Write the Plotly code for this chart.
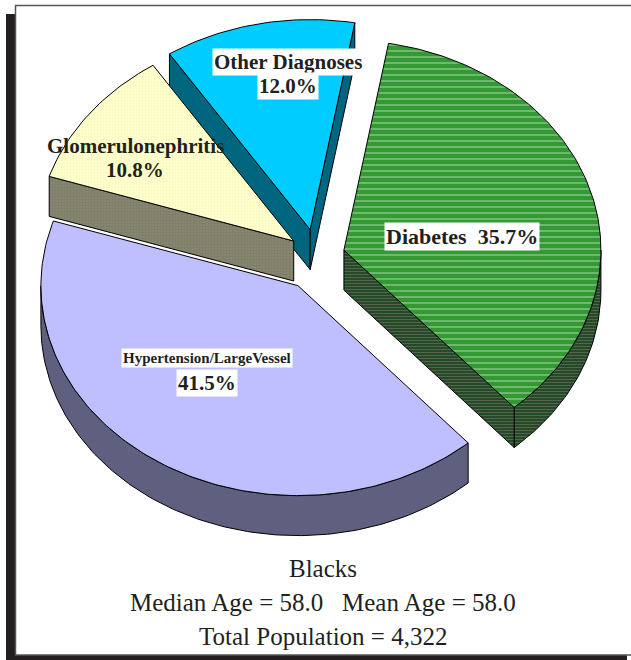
import math
import plotly.graph_objects as go

# ---------------- data ----------------
categories = ["Diabetes", "Hypertension/LargeVessel", "Glomerulonephritis", "Other Diagnoses"]
shares = [35.7, 41.5, 10.8, 12.0]
group_name = "Blacks"
median_age = 58.0
mean_age = 58.0
total_population = 4322

# ---------------- style / layout ----------------
W, H = 631, 660
CX, CY = 316, 258          # pie centre (pixels)
A, B = 257, 210            # ellipse radii
DEPTH = 40                 # pie thickness
START = 10                 # first slice starts 10 deg clockwise from 12 o'clock
explode = [29, 33, 28, 29]
top_colors = ["#339933", "#BFBFFF", "#FFFFCC", "#00CCFF"]
side_colors = ["#254a25", "#5f5f80", "#808068", "#006680"]
top_patterns = [
    dict(shape="-", fgcolor="#ffffff", bgcolor="#339933", size=6, solidity=0.2),
    None,
    dict(shape="+", fgcolor="#ecebb8", bgcolor="#FFFFCC", size=3, solidity=0.25),
    None,
]
side_patterns = [
    dict(shape="-", fgcolor="#808080", bgcolor="#254a25", size=3, solidity=0.35),
    None,
    dict(shape="+", fgcolor="#6c6c58", bgcolor="#858570", size=3, solidity=0.25),
    None,
]
label_r = [0.464, 0.534, 0.733, 0.748]
label_phi = [81.7, 221.5, 302.6, 353.4]
label_bg = [True, True, False, True]
FONT = "Liberation Serif"

draw_order = [3, 2, 0, 1]  # back to front


def pt(cx, cy, phi_deg, dy=0.0):
    p = math.radians(phi_deg)
    return cx + A * math.sin(p), cy - B * math.cos(p) + dy


def arc(cx, cy, p0, p1, dy=0.0):
    n = max(2, int(abs(p1 - p0) / 1.0) + 1)
    xs, ys = [], []
    for i in range(n + 1):
        ph = p0 + (p1 - p0) * i / n
        x, y = pt(cx, cy, ph, dy)
        xs.append(x)
        ys.append(y)
    return xs, ys


total = sum(shares)
slices = []
acc = START
for i, v in enumerate(shares):
    span = 360.0 * v / total
    ps, pe = acc, acc + span
    mid = (ps + pe) / 2
    m = math.radians(mid)
    cx = CX + explode[i] * math.sin(m)
    cy = CY - explode[i] * math.cos(m)
    slices.append(dict(ps=ps, pe=pe, mid=mid, cx=cx, cy=cy))
    acc = pe

fig = go.Figure()


def poly(xs, ys, color, pattern):
    kw = dict(
        x=xs + [xs[0]], y=ys + [ys[0]], mode="lines", fill="toself",
        line=dict(color="#000000", width=1), fillcolor=color,
        hoverinfo="skip", showlegend=False,
    )
    if pattern is not None:
        kw["fillpattern"] = pattern
    fig.add_trace(go.Scatter(**kw))


for i in draw_order:
    s = slices[i]
    cx, cy, ps, pe = s["cx"], s["cy"], s["ps"], s["pe"]
    # outer wall on the front (lower) half
    for lo, hi in ((90, 270), (450, 630)):
        a0, a1 = max(ps, lo), min(pe, hi)
        if a1 > a0:
            tx, ty = arc(cx, cy, a0, a1)
            bx, by = arc(cx, cy, a0, a1, DEPTH)
            poly(tx + bx[::-1], ty + by[::-1], side_colors[i], side_patterns[i])
    # radial faces
    for ph, vis in ((ps, math.sin(math.radians(ps)) < 0), (pe, math.sin(math.radians(pe)) > 0)):
        if vis:
            qx, qy = pt(cx, cy, ph)
            poly([cx, qx, qx, cx], [cy, qy, qy + DEPTH, cy + DEPTH], side_colors[i], side_patterns[i])
    # top face
    ax, ay = arc(cx, cy, ps, pe)
    poly([cx] + ax, [cy] + ay, top_colors[i], top_patterns[i])

# ---------------- labels ----------------
annotations = []
for i, s in enumerate(slices):
    lp = math.radians(label_phi[i])
    lx = s["cx"] + A * label_r[i] * math.sin(lp)
    ly = s["cy"] - B * label_r[i] * math.cos(lp)
    pct = f"{shares[i]:.1f}%"
    bg = "#ffffff" if label_bg[i] else "rgba(0,0,0,0)"
    if i == 0:
        lines = [(f"{categories[i]}&nbsp;&nbsp;{pct}", 22, 0)]
    elif i == 1:
        lines = [(categories[i], 15, -12), (pct, 21, 13)]
    else:
        lines = [(categories[i], 21, -12), (pct, 21, 12)]
    for txt, size, off in lines:
        annotations.append(dict(
            x=lx, y=ly + off, xref="x", yref="y", text=f"<b>{txt}</b>", showarrow=False,
            font=dict(family=FONT, size=size, color="#231f20"),
            bgcolor=bg, borderpad=1, xanchor="center", yanchor="middle",
        ))

footer = [
    group_name,
    f"Median Age = {median_age:.1f}&nbsp;&nbsp;&nbsp;Mean Age = {mean_age:.1f}",
    f"Total Population = {total_population:,}",
]
for k, txt in enumerate(footer):
    annotations.append(dict(
        x=323, y=568 + 34 * k, xref="x", yref="y", text=txt, showarrow=False,
        font=dict(family=FONT, size=25, color="#231f20"),
        xanchor="center", yanchor="middle",
    ))

shapes = [
    dict(type="rect", xref="x", yref="y", x0=6, x1=627, y0=14, y1=661,
         fillcolor="#231f20", line=dict(width=0), layer="below"),
    dict(type="rect", xref="x", yref="y", x0=15.5, x1=640, y0=5.5, y1=655,
         fillcolor="#ffffff", line=dict(color="#555555", width=1.5), layer="below"),
]

fig.update_layout(
    width=W, height=H, margin=dict(l=0, r=0, t=0, b=0),
    paper_bgcolor="#ffffff", plot_bgcolor="#ffffff",
    xaxis=dict(range=[0, W], visible=False, fixedrange=True),
    yaxis=dict(range=[H, 0], visible=False, fixedrange=True),
    annotations=annotations, shapes=shapes, showlegend=False,
)

fig.write_html(
    "out.html",
    config={"displayModeBar": False},
    post_script="document.body.style.margin='0';document.body.style.overflow='hidden';",
)
